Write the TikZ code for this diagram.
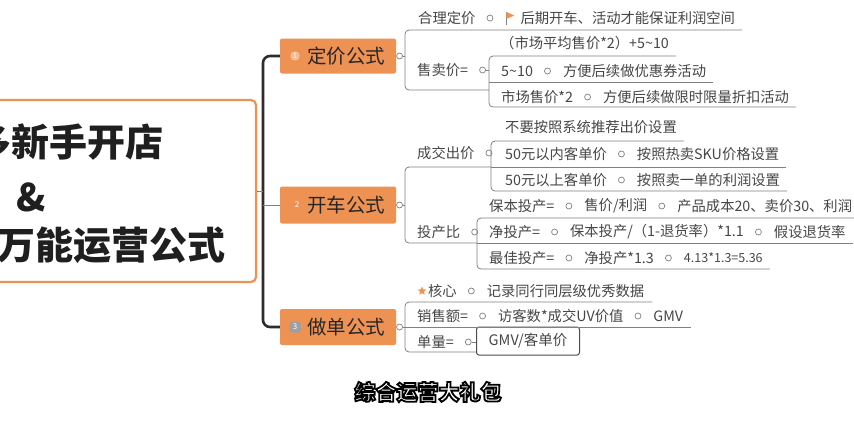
\documentclass[tikz,border=0pt]{standalone}
\usepackage{fontspec}
\setmainfont{Noto Sans CJK SC}
\usetikzlibrary{positioning, calc, shapes.geometric}
\definecolor{mindorange}{RGB}{238,146,84}
\definecolor{leafgray}{RGB}{70,70,70}
\definecolor{wiregray}{RGB}{128,128,128}
\definecolor{trunkdark}{RGB}{48,44,44}

\begin{document}
\begin{tikzpicture}[x=1pt, y=-1pt, node distance=11pt,
  leaf/.style={font=\fontsize{14.3}{16}\selectfont, text=leafgray, anchor=west, inner sep=0pt},
  knot/.style={circle, draw=wiregray, fill=white, line width=0.7pt, minimum size=6pt, inner sep=0pt},
  branch/.style={fill=mindorange, text=black!85, font=\fontsize{19.5}{22}\selectfont,
    text width=94pt, align=right, inner xsep=11pt, inner ysep=0pt, rounded corners=2pt},
  wire/.style={draw=wiregray, line width=0.8pt, rounded corners=4pt},
  trunk/.style={draw=trunkdark, line width=2.6pt, rounded corners=7pt},
  rootline/.style={font=\fontsize{38}{40}\selectfont\bfseries, text=black!88, anchor=west, inner sep=0pt},
  capline/.style={font=\fontsize{21}{24}\selectfont\bfseries, text=white, inner sep=0pt},
]
  \useasboundingbox (0,0) rectangle (854,440);
  \clip (0,0) rectangle (854,440);
  \fill[white] (0,0) rectangle (854,440);

  % root topic
  \node[draw=mindorange, line width=2.2pt, rounded corners=5pt, minimum width=268pt,
    minimum height=182pt, inner sep=0pt] (root) at (122,191) {};
  \node[rootline] (title1) at (-27,142) {多新手开店};
  \node[rootline, anchor=center] (title2) at (31,197) {\&};
  \node[rootline] (title3) at (-3,245) {万能运营公式};

  % main branches
  \coordinate (spine) at (263,191);
  \node[branch, minimum height=35pt] (b1) at (338,56) {定价公式};
  \node[branch, minimum height=37pt] (b2) at (338,205) {开车公式};
  \node[branch, minimum height=36pt] (b3) at (338,327) {做单公式};
  \node[circle, fill=white!35!mindorange, draw=white!70!mindorange, inner sep=0.6pt,
    font=\fontsize{7.5}{8}\selectfont, text=white] (num1) at (295,56) {1};
  \node[font=\fontsize{8}{8}\selectfont, text=white, inner sep=0pt] (num2) at (297,205) {2};
  \node[fill=gray!75, rounded corners=1.5pt, minimum size=11pt, inner sep=0pt,
    font=\fontsize{8}{8}\selectfont, text=white] (num3) at (295,327) {3};
  \draw[trunk] (b1.west) -- (b1.west -| spine) -- (b3.west -| spine) -- (b3.west);
  \draw[wire] (root.east) -- (root.east -| spine);
  \draw[wire] (b2.west) -- (b2.west -| spine);
  \node[knot, right=0pt of b1] (k1) {};
  \node[knot, right=0pt of b2] (k2) {};
  \node[knot, right=0pt of b3] (k3) {};

  % pricing
  \node[leaf] (pricing) at (418,18) {合理定价};
  \node[knot, right=of pricing] (kp) {};
  \coordinate[right=13pt of kp] (flagpole);
  \draw[wiregray, line width=0.7pt] (flagpole) ++(0,-6) -- ++(0,13);
  \fill[mindorange] (flagpole) ++(0,-6) -- ++(8,3.5) -- ++(-8,3.5) -- cycle;
  \node[leaf, right=27pt of kp] (pricingnote) {后期开车、活动才能保证利润空间};
  \node[leaf] (sellprice) at (417,70) {售卖价=};
  \node[knot, right=of sellprice] (ks) {};
  \node[leaf] (formula) at (500,43) {（市场平均售价*2）+5\textasciitilde10};
  \node[leaf] (coupon) at (501,71) {5\textasciitilde10};
  \node[knot, right=of coupon] (kc) {};
  \node[leaf, right=12pt of kc] (couponnote) {方便后续做优惠券活动};
  \node[leaf] (double) at (501,97) {市场售价*2};
  \node[knot, right=of double] (kd) {};
  \node[leaf, right=12pt of kd] (doublenote) {方便后续做限时限量折扣活动};

  \coordinate (p1t) at (405,30);
  \coordinate (p1b) at (405,90);
  \coordinate (p2t) at (489,56);
  \coordinate (p2m) at (489,82);
  \coordinate (p2b) at (489,107);
  \draw[wire] (k1.east) -- (k1 -| p1t);
  \draw[wire] ($(pricingnote.east |- p1t)+(7,0)$) -- (p1t) -- (p1b) -- (p1b -| p2t);
  \draw[wire] (ks.east) -- (ks -| p2t);
  \draw[wire] ($(formula.east |- p2t)+(7,0)$) -- (p2t) -- (p2b) -- ($(doublenote.east |- p2b)+(7,0)$);
  \draw[wire] (p2m) -- ($(couponnote.east |- p2m)+(7,0)$);

  % driving ads
  \node[leaf] (bid) at (417,153) {成交出价};
  \node[knot, right=of bid] (kb) {};
  \node[leaf] (nobid) at (505,127) {不要按照系统推荐出价设置};
  \node[leaf] (under50) at (505,154) {50元以内客单价};
  \node[knot, right=of under50] (ku) {};
  \node[leaf, right=12pt of ku] (undernote) {按照热卖SKU价格设置};
  \node[leaf] (over50) at (505,180) {50元以上客单价};
  \node[knot, right=of over50] (ko) {};
  \node[leaf, right=12pt of ko] (overnote) {按照卖一单的利润设置};
  \node[leaf] (roi) at (417,232) {投产比};
  \node[knot, right=of roi] (kr) {};
  \node[leaf] (breakeven) at (489,206) {保本投产=};
  \node[knot, right=of breakeven] (kbe) {};
  \node[leaf, right=12pt of kbe] (beformula) {售价/利润};
  \node[knot, right=of beformula] (kbe2) {};
  \node[leaf, right=12pt of kbe2] (beexample) {产品成本20、卖价30、利润};
  \node[leaf] (netroi) at (489,232) {净投产=};
  \node[knot, right=of netroi] (kn) {};
  \node[leaf, right=12pt of kn] (netformula) {保本投产/（1-退货率）*1.1};
  \node[knot, right=of netformula] (kn2) {};
  \node[leaf, right=12pt of kn2] (netexample) {假设退货率};
  \node[leaf] (bestroi) at (489,258) {最佳投产=};
  \node[knot, right=of bestroi] (kbr) {};
  \node[leaf, right=12pt of kbr] (bestformula) {净投产*1.3};
  \node[knot, right=of bestformula] (kbr2) {};
  \node[leaf, font=\fontsize{12.5}{14}\selectfont, right=12pt of kbr2] (bestexample) {4.13*1.3=5.36};

  \coordinate (q1t) at (405,167);
  \coordinate (q1b) at (405,243);
  \coordinate (q2t) at (491,141);
  \coordinate (q2m) at (491,167);
  \coordinate (q2b) at (491,191);
  \coordinate (q3t) at (477,218);
  \coordinate (q3m) at (477,243);
  \coordinate (q3b) at (477,269);
  \draw[wire] (k2.east) -- (k2 -| q1t);
  \draw[wire] (q2m) -- (q1t) -- (q1b) -- (q3m);
  \draw[wire] (kb.east) -- (kb -| q2t);
  \draw[wire] ($(nobid.east |- q2t)+(7,0)$) -- (q2t) -- (q2b) -- ($(overnote.east |- q2b)+(7,0)$);
  \draw[wire] (q2m) -- ($(undernote.east |- q2m)+(7,0)$);
  \draw[wire] (kr.east) -- (kr -| q3t);
  \draw[wire] ($(beexample.east |- q3t)+(7,0)$) -- (q3t) -- (q3b) -- ($(bestexample.east |- q3b)+(7,0)$);
  \draw[wire] (q3m) -- ($(netexample.east |- q3m)+(7,0)$);

  % orders
  \node[star, star points=5, star point ratio=2.2, fill=mindorange, minimum size=9pt,
    inner sep=0pt] (corestar) at (422,291) {};
  \node[leaf, right=3pt of corestar] (core) {核心};
  \node[knot, right=of core] (kcore) {};
  \node[leaf, right=12pt of kcore] (corenote) {记录同行同层级优秀数据};
  \node[leaf] (sales) at (417,316) {销售额=};
  \node[knot, right=of sales] (ksales) {};
  \node[leaf, right=12pt of ksales] (visitors) {访客数*成交UV价值};
  \node[knot, right=of visitors] (kv) {};
  \node[leaf, right=12pt of kv] (gmv) {GMV};
  \node[leaf] (quantity) at (417,342) {单量=};
  \node[knot, right=of quantity] (kq) {};
  \node[draw=black!70, line width=1pt, rounded corners=2.5pt, minimum width=103pt,
    minimum height=28pt, font=\fontsize{14.5}{16}\selectfont, text=leafgray] (gmvbox) at (528,341) {GMV/客单价};

  \coordinate (r1t) at (405,302);
  \coordinate (r1m) at (405,327);
  \coordinate (r1b) at (405,352);
  \draw[wire] (k3.east) -- (k3 -| r1t);
  \draw[wire] ($(corenote.east |- r1t)+(8,0)$) -- (r1t) -- (r1b) -- (r1b -| gmvbox.west);
  \draw[wire] (r1m) -- ($(gmv.east |- r1m)+(8,0)$);
  \draw[wire] (kq.east) -- (kq -| gmvbox.west);

  % caption, white letters with a dark stroke
  \node[capline] (caption) at (428,392)
    {\special{pdf:literal direct 2 Tr 1.8 w 0 0 0 RG 1 1 1 rg}综合运营大礼包\special{pdf:literal direct 0 Tr}};
\end{tikzpicture}
\end{document}
